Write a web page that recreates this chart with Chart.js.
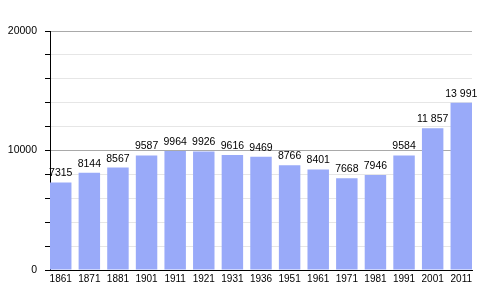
<!DOCTYPE html>
<html>
<head>
<meta charset="utf-8">
<script src="https://cdn.jsdelivr.net/npm/chart.js@4.4.1/dist/chart.umd.min.js"></script>
<style>
  html, body { margin: 0; padding: 0; background: #fff; }
  #wrap { width: 500px; height: 300px; position: relative; }
</style>
</head>
<body>
<div id="wrap"><canvas id="chart-pop"></canvas></div>
<script>
// dados
var anos = ["1861", "1871", "1881", "1901", "1911", "1921", "1931", "1936", "1951", "1961", "1971", "1981", "1991", "2001", "2011"];
var populacao = [7315, 8144, 8567, 9587, 9964, 9926, 9616, 9469, 8766, 8401, 7668, 7946, 9584, 11857, 13991];
var rotulosY = [0, 10000, 20000];

(function () {
  "use strict";

  var FONTE = "'Liberation Sans', Arial, sans-serif";

  function formatar(v) {
    var s = String(v);
    return v >= 10000 ? s.replace(/\B(?=(\d{3})+(?!\d))/g, " ") : s;
  }

  // valores acima das barras
  var rotulosPlugin = {
    id: "rotulos",
    afterDatasetsDraw: function (chart) {
      var ctx = chart.ctx;
      var meta = chart.getDatasetMeta(0);
      ctx.save();
      ctx.fillStyle = "#000";
      ctx.font = "10.5px " + FONTE;
      ctx.textAlign = "center";
      ctx.textBaseline = "middle";
      meta.data.forEach(function (bar, i) {
        ctx.fillText(formatar(populacao[i]), bar.x, bar.y - 9);
      });
      ctx.restore();
    },
  };

  var ctx = document.getElementById("chart-pop");
  new Chart(ctx, {
    type: "bar",
    data: {
      datasets: [
        {
          data: populacao.map(function (v, i) {
            return { x: i, y: v };
          }),
          backgroundColor: "#99aaf9",
          borderWidth: 0,
          categoryPercentage: 1,
          barPercentage: 0.75,
        },
      ],
    },
    options: {
      responsive: true,
      maintainAspectRatio: false,
      animation: false,
      layout: { padding: { top: 31, right: 28, left: 0, bottom: 0 } },
      plugins: { legend: { display: false }, tooltip: { enabled: false } },
      scales: {
        x: {
          type: "linear",
          offset: false,
          min: -0.375,
          max: anos.length - 0.625,
          afterBuildTicks: function (s) {
            s.ticks = anos.map(function (a, i) {
              return { value: i };
            });
          },
          afterFit: function (s) {
            s.height = 30;
          },
          grid: { display: false, drawTicks: false },
          border: { display: true, color: "#000", width: 1 },
          ticks: {
            autoSkip: false,
            maxRotation: 0,
            padding: 3,
            color: "#000",
            font: { family: FONTE, size: 10 },
            callback: function (v) {
              return anos[v] || "";
            },
          },
        },
        y: {
          min: 0,
          max: 20000,
          afterFit: function (s) {
            s.width = 50;
          },
          grid: {
            color: function (c) {
              return c.tick && c.tick.value % 10000 === 0 ? "#a9a9a9" : "#e6e6e6";
            },
            tickColor: "#000",
            tickLength: 5,
          },
          border: { display: true, color: "#000", width: 1 },
          ticks: {
            stepSize: 2000,
            padding: 8,
            color: "#000",
            font: { family: FONTE, size: 10.5 },
            callback: function (v) {
              return rotulosY.indexOf(v) >= 0 ? String(v) : "";
            },
          },
        },
      },
    },
    plugins: [rotulosPlugin],
  });
})();
</script>
</body>
</html>
